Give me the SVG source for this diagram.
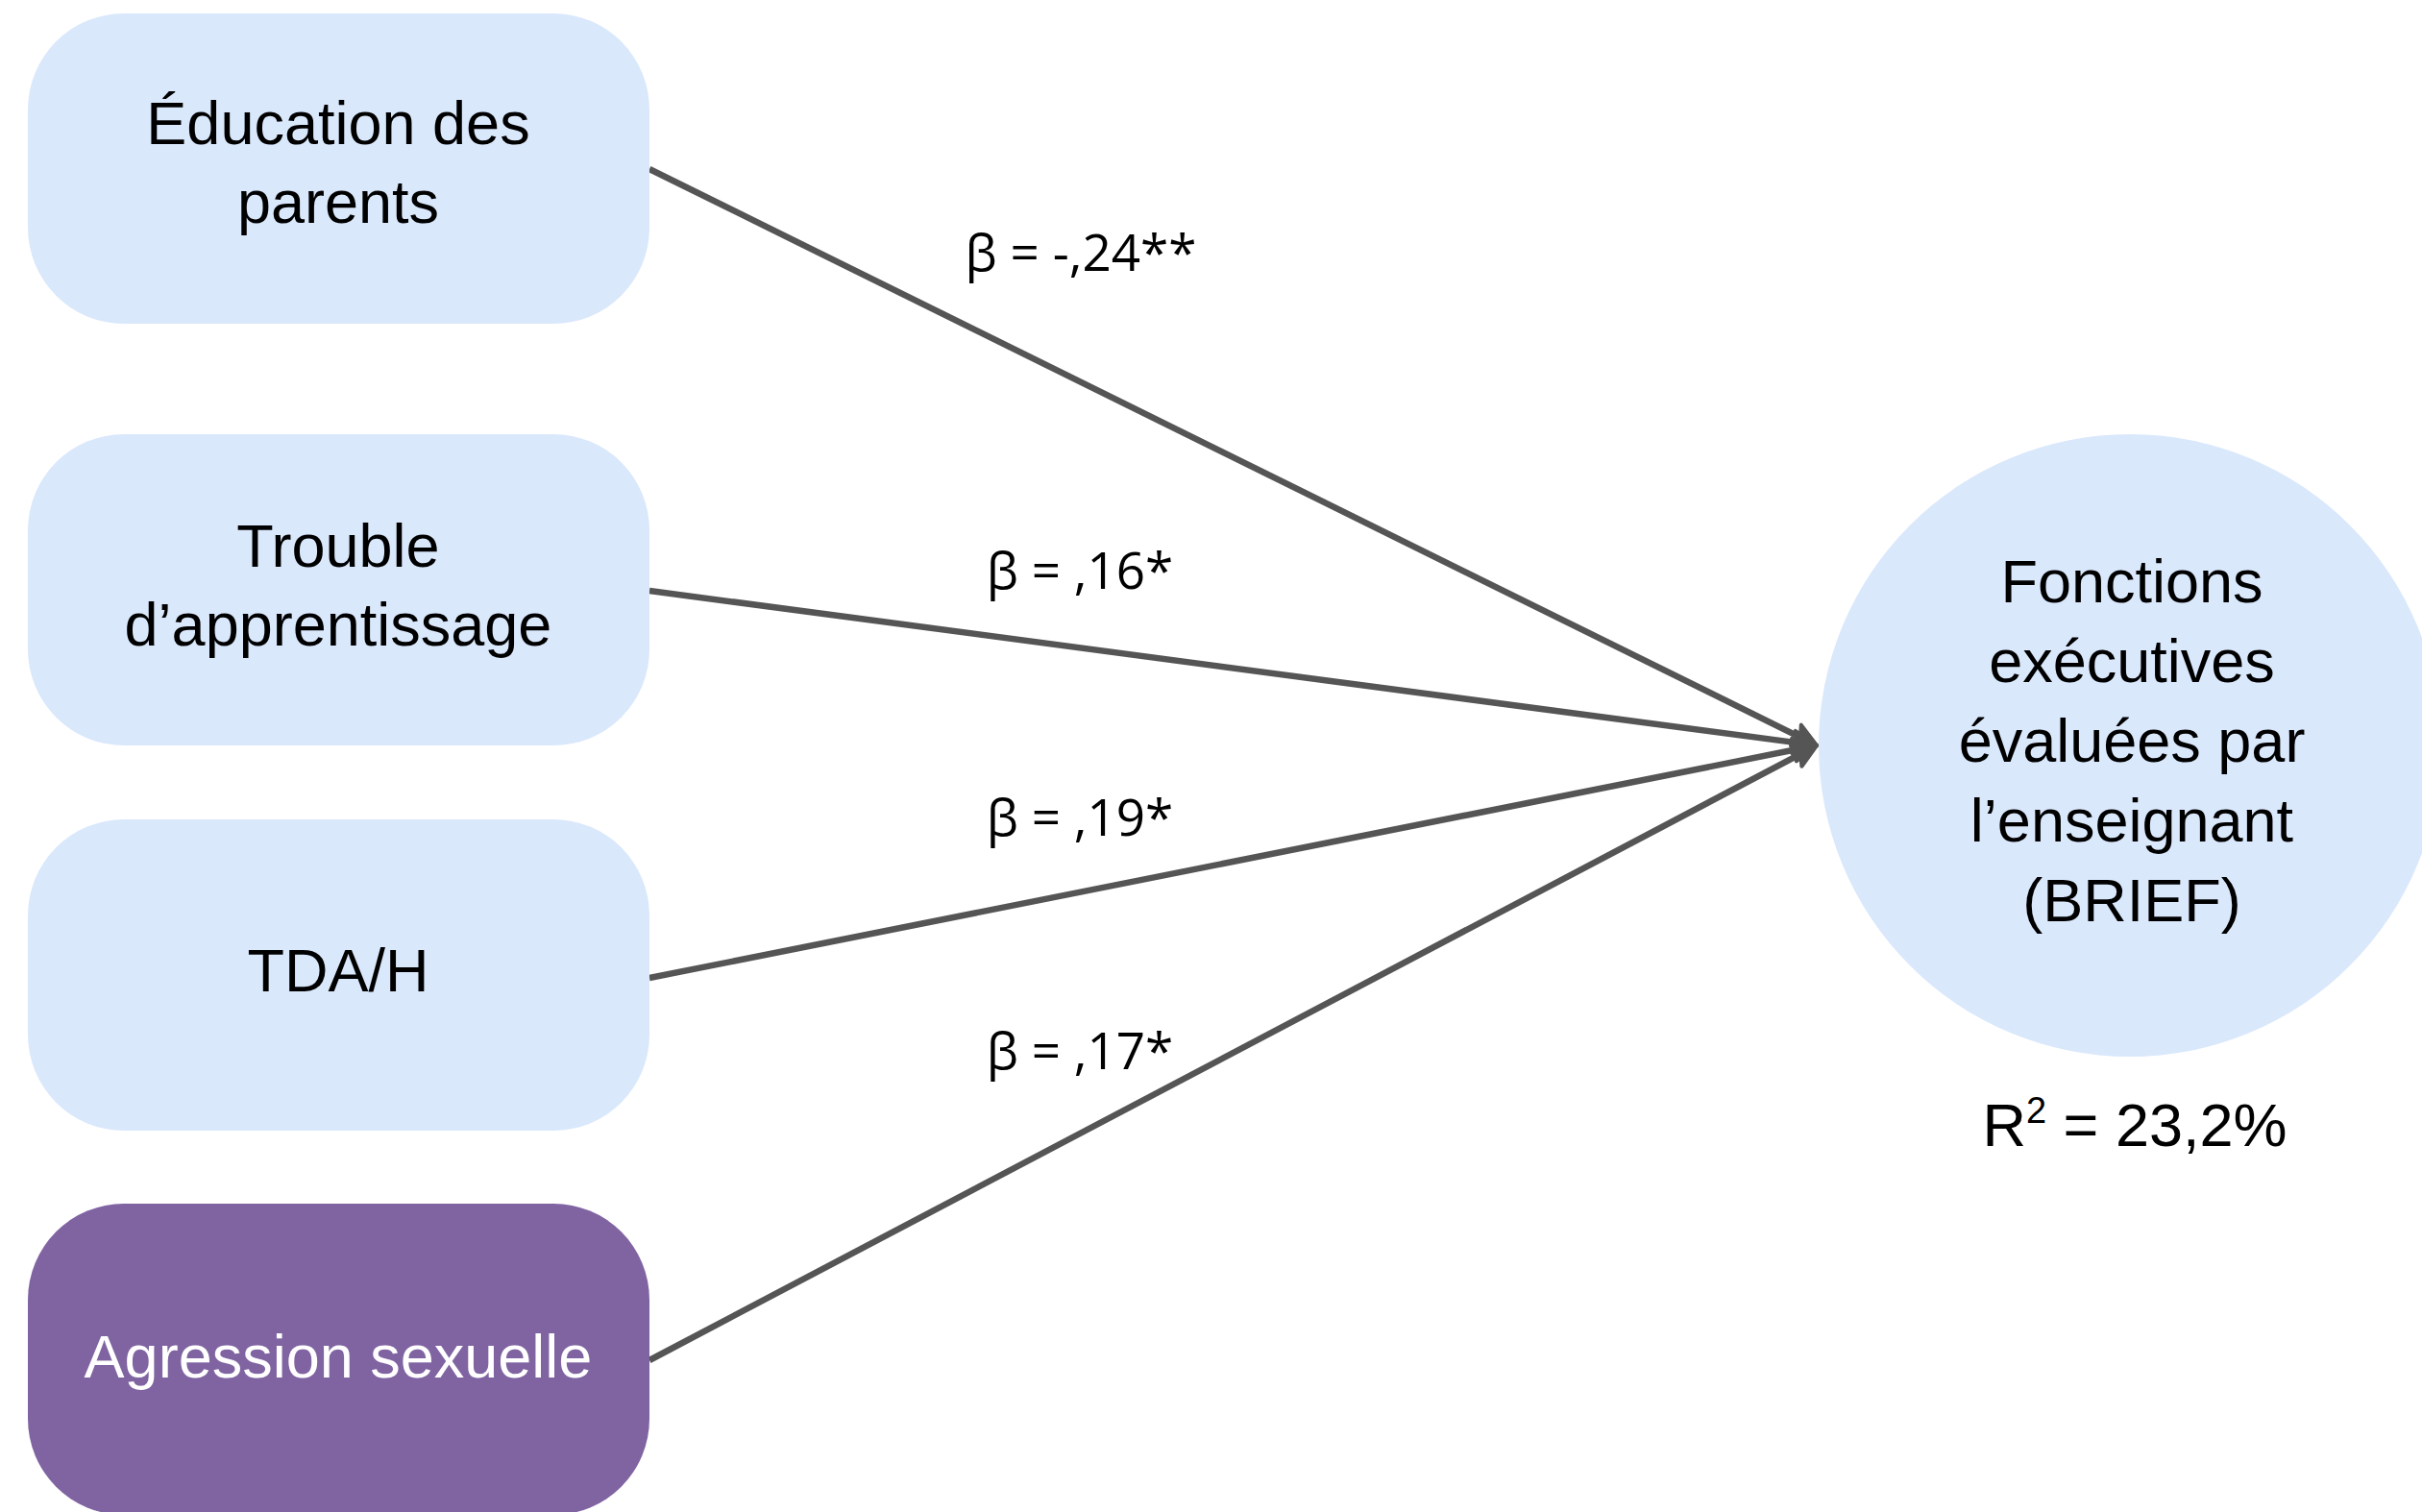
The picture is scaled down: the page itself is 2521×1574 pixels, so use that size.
<svg xmlns="http://www.w3.org/2000/svg" width="2521" height="1574" viewBox="0 0 2521 1574">
<style>
.box{fill:#dae8fc;}
.boxp{fill:#8064a2;}
.t{font-family:"Liberation Sans",Arial,sans-serif;font-size:63px;text-anchor:middle;fill:#000;}
.tw{font-family:"Liberation Sans",Arial,sans-serif;font-size:63px;text-anchor:middle;fill:#fff;}
.lbl{font-family:"Open Sans","DejaVu Sans",sans-serif;font-size:53px;text-anchor:middle;fill:#000;}
.edge{stroke:#555555;stroke-width:6.5;fill:none;}
</style>
<defs>
<marker id="arr" markerUnits="userSpaceOnUse" markerWidth="60" markerHeight="60" viewBox="-30 -30 60 60" refX="0" refY="0" orient="auto" overflow="visible">
<path d="M 12 0 L -12 -12 L -7 0 L -12 12 Z" fill="#555555" stroke="#555555" stroke-width="4" stroke-linejoin="round"/>
</marker>
</defs>
<g id="connectors">
<line class="edge" x1="676" y1="176" x2="1880.2" y2="770.7" marker-end="url(#arr)"/>
<line class="edge" x1="676" y1="615" x2="1879.1" y2="774.4" marker-end="url(#arr)"/>
<line class="edge" x1="676" y1="1018" x2="1879.2" y2="778.3" marker-end="url(#arr)"/>
<line class="edge" x1="676" y1="1416" x2="1880.4" y2="781.6" marker-end="url(#arr)"/>
<text class="lbl" x="1125" y="282">β = -,24**</text>
<text class="lbl" x="1124" y="613">β = ,16*</text>
<text class="lbl" x="1124" y="870">β = ,19*</text>
<text class="lbl" x="1124" y="1113">β = ,17*</text>
</g>
<g id="node-education">
<rect class="box" x="29" y="14" width="647" height="323" rx="100" ry="100"/>
<text class="t" x="352" y="150">Éducation des</text>
<text class="t" x="352" y="232">parents</text>
</g>
<g id="node-trouble">
<rect class="box" x="29" y="452" width="647" height="324" rx="100" ry="100"/>
<text class="t" x="352" y="590">Trouble</text>
<text class="t" x="352" y="672">d’apprentissage</text>
</g>
<g id="node-tdah">
<rect class="box" x="29" y="853" width="647" height="324" rx="100" ry="100"/>
<text class="t" x="352" y="1032">TDA/H</text>
</g>
<g id="node-agression">
<rect class="boxp" x="29" y="1253" width="647" height="324" rx="100" ry="100"/>
<text class="tw" x="352" y="1434">Agression sexuelle</text>
</g>
<g id="node-fonctions">
<circle class="box" cx="2217" cy="776" r="324"/>
<text class="t" x="2219" y="627">Fonctions</text>
<text class="t" x="2219" y="710">exécutives</text>
<text class="t" x="2219" y="793">évaluées par</text>
<text class="t" x="2219" y="876">l’enseignant</text>
<text class="t" x="2219" y="959">(BRIEF)</text>
</g>
<g id="r2">
<text class="t" x="2222" y="1193">R<tspan font-size="38" dy="-24">2</tspan><tspan dy="24"> = 23,2%</tspan></text>
</g>
</svg>
